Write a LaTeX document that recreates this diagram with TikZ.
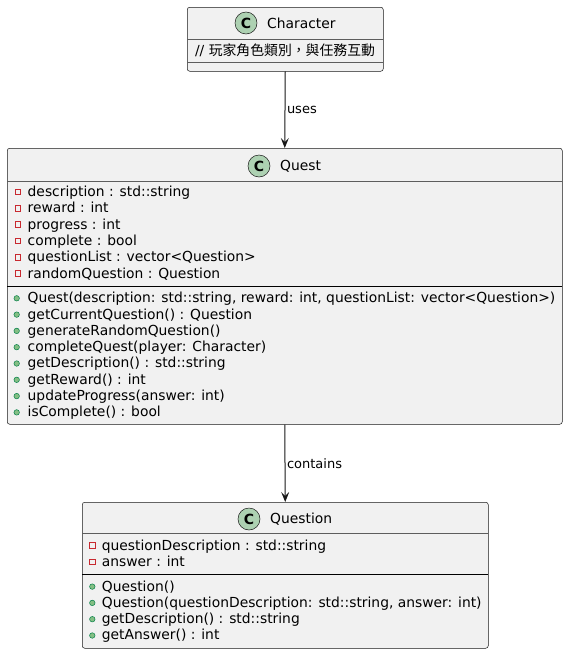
\documentclass[tikz,border=0pt]{standalone}
\usepackage{fontspec}
\setmainfont{DejaVu Sans}
\newfontfamily\cjk{Noto Sans CJK TC}
\usetikzlibrary{arrows.meta,calc,positioning}
\definecolor{boxfill}{HTML}{F1F1F1}
\definecolor{boxline}{HTML}{181818}
\definecolor{cfill}{HTML}{ADD1B2}
\definecolor{privred}{HTML}{C82930}
\definecolor{pubfill}{HTML}{84BE84}
\definecolor{publine}{HTML}{038048}

\begin{document}
\begin{tikzpicture}[x=1pt,y=-1pt,
  cls/.style={draw=boxline,fill=boxfill,line width=.5pt,rounded corners=2.5pt,inner sep=0pt,anchor=north west},
  ccirc/.style={circle,draw=boxline,fill=cfill,line width=.5pt,minimum size=22pt,inner sep=0pt,font=\fontsize{14}{14}\selectfont\bfseries},
  row/.style={anchor=base west,inner sep=0pt,font=\fontsize{13.85}{16}\selectfont},
  priv/.style={draw=privred,line width=.8pt,minimum size=5.5pt,inner sep=0pt},
  pub/.style={circle,draw=publine,fill=pubfill,line width=.5pt,minimum size=5.5pt,inner sep=0pt},
  sep/.style={draw=boxline!70,line width=.5pt},
  split/.style={draw=black,line width=1pt},
  rel/.style={draw=boxline,line width=1pt,-{Stealth[length=10pt,width=8pt,inset=4pt]}},
  lbl/.style={anchor=west,xshift=1.5pt,inner sep=0pt,font=\fontsize{13}{13}\selectfont}]
  \useasboundingbox (0,0) rectangle (568,653);

  % class boxes
  \node[cls,minimum width=196pt,minimum height=64pt] (character) at (187,7) {};
  \node[cls,minimum width=555pt,minimum height=276pt] (quest) at (7,148) {};
  \node[cls,minimum width=406pt,minimum height=146pt] (question) at (82,502) {};

  % Character
  \node[ccirc] (charC) at (246,23) {C};
  \node[row] (charT) at (267,28.3) {Character};
  \draw[sep] (187,39) -- (383,39);
  \node[row,anchor=base] (charNote) at (285,55) {// {\cjk 玩家角色類別，與任務互動}};
  \draw[sep] (187,62.5) -- (383,62.5);

  % Quest
  \node[ccirc] (questC) at (259,166) {C};
  \node[row] (questT) at (280,170.3) {Quest};
  \draw[sep] (7,181) -- (562,181);
  \foreach \t [count=\i from 0] in {{description : std::string},{reward : int},{progress : int},
      {complete : bool},{questionList : vector<Question>},{randomQuestion : Question}} {
    \node[priv] (qpriv\i) at (18,{192+16.3*\i}) {};
    \node[row] (qattr\i) at (27.5,{196.5+16.3*\i}) {\t};
  }
  \draw[split] (7,286) -- (562,286);
  \foreach \t [count=\i from 0] in {{Quest(description: std::string, reward: int, questionList: vector<Question>)},
      {getCurrentQuestion() : Question},{generateRandomQuestion()},{completeQuest(player: Character)},
      {getDescription() : std::string},{getReward() : int},{updateProgress(answer: int)},{isComplete() : bool}} {
    \node[pub] (qpub\i) at (16.7,{298.3+16.3*\i}) {};
    \node[row] (qmeth\i) at (27.5,{302.7+16.3*\i}) {\t};
  }

  % Question
  \node[ccirc] (qnC) at (249,519) {C};
  \node[row] (qnT) at (270,523) {Question};
  \draw[sep] (82,533.3) -- (488,533.3);
  \foreach \t [count=\i from 0] in {{questionDescription : std::string},{answer : int}} {
    \node[priv] (npriv\i) at (92.5,{545.5+16.3*\i}) {};
    \node[row] (nattr\i) at (101.7,{550+16.3*\i}) {\t};
  }
  \draw[split] (82,574.3) -- (488,574.3);
  \foreach \t [count=\i from 0] in {{Question()},{Question(questionDescription: std::string, answer: int)},
      {getDescription() : std::string},{getAnswer() : int}} {
    \node[pub] (npub\i) at (92.3,{586.6+16.3*\i}) {};
    \node[row] (nmeth\i) at (101.7,{591+16.3*\i}) {\t};
  }

  % relations
  \draw[rel] (character.south) -- node[lbl] {uses} (quest.north);
  \draw[rel] (quest.south) -- node[lbl] {contains} (question.north);
\end{tikzpicture}
\end{document}
